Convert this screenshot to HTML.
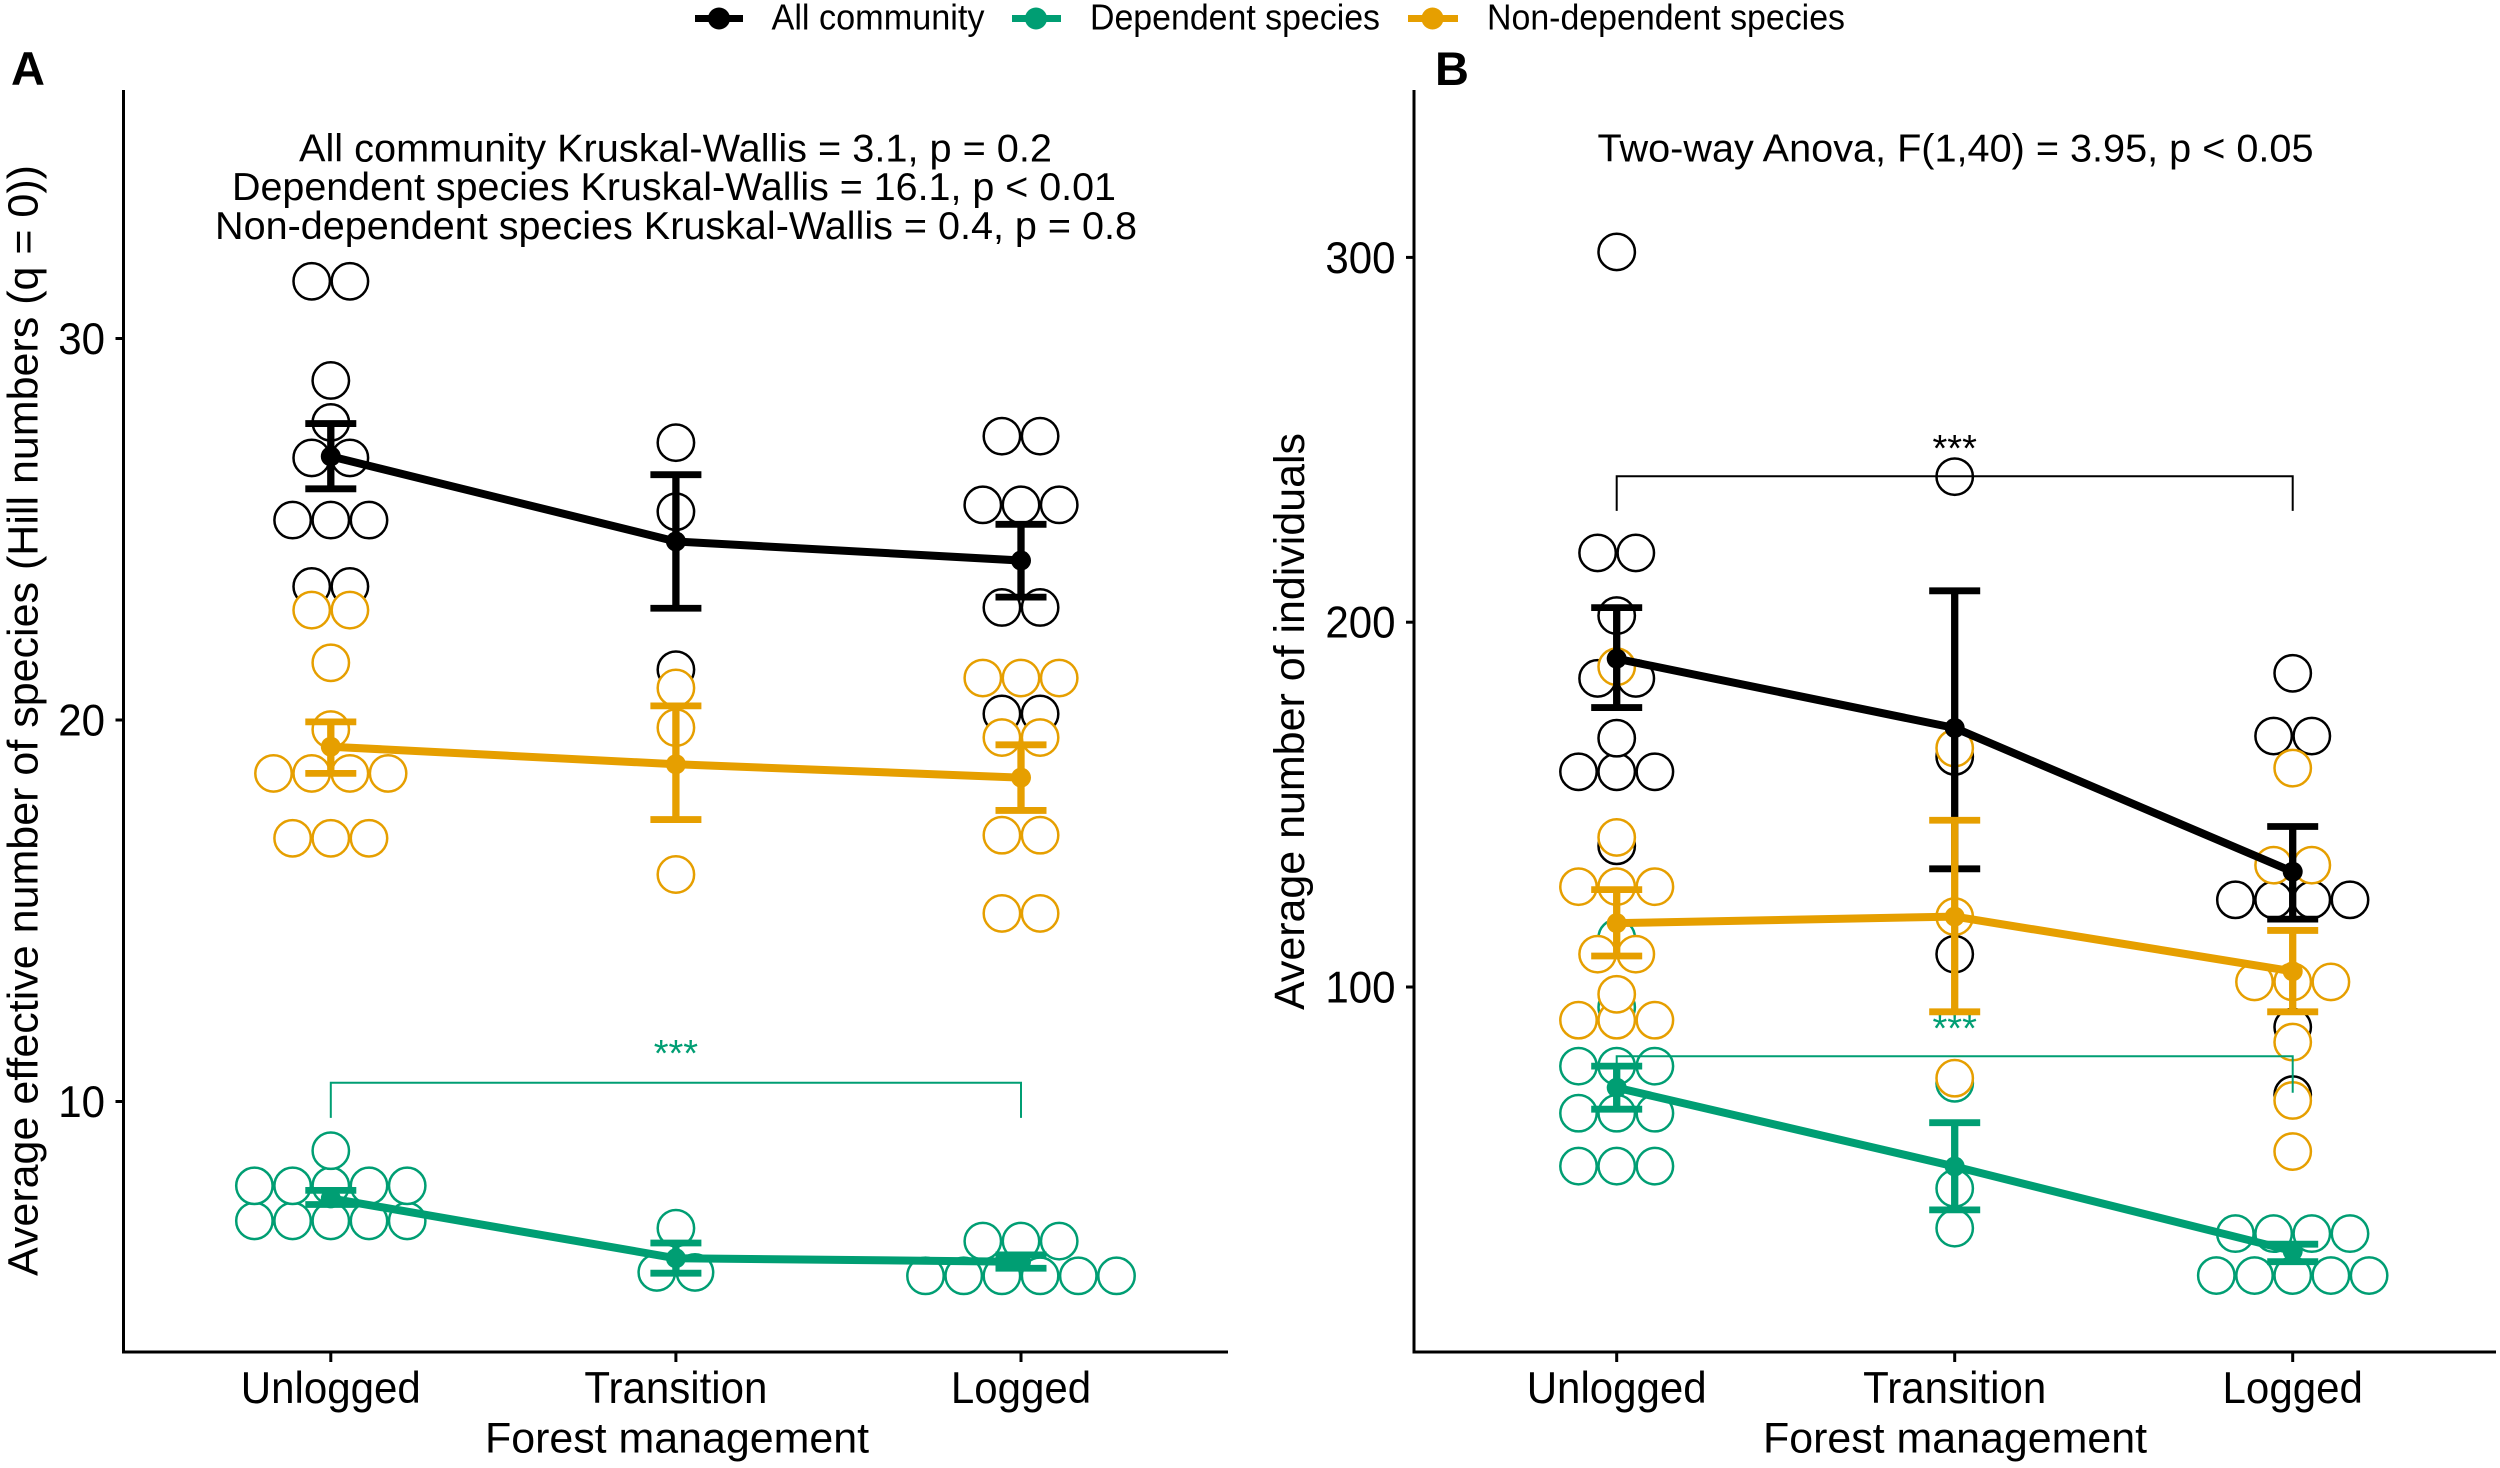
<!DOCTYPE html>
<html lang="en">
<head>
<meta charset="utf-8">
<title>Forest management effects on species and individuals</title>
<style>
html,body{margin:0;padding:0;background:#fff;}
svg{display:block;font-family:"Liberation Sans",Arial,sans-serif;}
</style>
</head>
<body>
<svg id="chart" xmlns="http://www.w3.org/2000/svg" width="2500" height="1468" viewBox="0 0 2500 1468">
  <rect x="0" y="0" width="2500" height="1468" fill="#fff"/>

  <g>
    <g>
      <line x1="695" x2="743" y1="18.5" y2="18.5" stroke="#000" stroke-width="7"/>
      <circle cx="719" cy="18.5" r="11" fill="#000"/>
      <text x="771.5" y="29.5" font-size="36" textLength="213" lengthAdjust="spacingAndGlyphs">All community</text>
    </g>
    <g>
      <line x1="1012" x2="1061" y1="18.5" y2="18.5" stroke="#009E73" stroke-width="7"/>
      <circle cx="1036" cy="18.5" r="11" fill="#009E73"/>
      <text x="1090" y="29.5" font-size="36" textLength="290" lengthAdjust="spacingAndGlyphs">Dependent species</text>
    </g>
    <g>
      <line x1="1408" x2="1458" y1="18.5" y2="18.5" stroke="#E69F00" stroke-width="7"/>
      <circle cx="1432.5" cy="18.5" r="11" fill="#E69F00"/>
      <text x="1487" y="29.5" font-size="36" textLength="358" lengthAdjust="spacingAndGlyphs">Non-dependent species</text>
    </g>
  </g>

  <text x="11" y="85" font-size="47" font-weight="bold">A</text>
  <text x="1435" y="85" font-size="47" font-weight="bold">B</text>

  <g font-size="39" text-anchor="middle">
    <text x="675.5" y="161.5" textLength="753" lengthAdjust="spacingAndGlyphs">All community Kruskal-Wallis = 3.1, p = 0.2</text>
    <text x="674" y="200" textLength="884" lengthAdjust="spacingAndGlyphs">Dependent species Kruskal-Wallis = 16.1, p &lt; 0.01</text>
    <text x="676" y="238.8" textLength="922" lengthAdjust="spacingAndGlyphs">Non-dependent species Kruskal-Wallis = 0.4, p = 0.8</text>
  </g>
  <text x="1955.5" y="161.5" font-size="39" text-anchor="middle" textLength="716" lengthAdjust="spacingAndGlyphs">Two-way Anova, F(1,40) = 3.95, p &lt; 0.05</text>

  <text transform="translate(37.5 720.5) rotate(-90)" font-size="43" text-anchor="middle" textLength="1111" lengthAdjust="spacingAndGlyphs">Average effective number of species (Hill numbers (q = 0))</text>
  <text transform="translate(1304 721.5) rotate(-90)" font-size="43" text-anchor="middle" textLength="577" lengthAdjust="spacingAndGlyphs">Average number of individuals</text>

  <text x="677" y="1452.5" font-size="43" text-anchor="middle" textLength="384" lengthAdjust="spacingAndGlyphs">Forest management</text>
  <text x="1955" y="1452.5" font-size="43" text-anchor="middle" textLength="384" lengthAdjust="spacingAndGlyphs">Forest management</text>

  <g id="panel-a"></g>
  <g id="panel-b"></g>
</svg>

<script>
// ---------- shared categories ----------
const categories = ['Unlogged', 'Transition', 'Logged'];

// ---------- Panel A: effective number of species ----------
const aTicks = [10, 20, 30];

const aAllMean  = [26.91, 24.68, 24.18];
const aAllUpper = [27.77, 26.43, 25.13];
const aAllLower = [26.06, 22.93, 23.22];

const aDepMean  = [7.46, 5.89, 5.80];
const aDepUpper = [7.67, 6.29, 5.98];
const aDepLower = [7.30, 5.50, 5.63];

const aNonMean  = [19.30, 18.84, 18.49];
const aNonUpper = [19.95, 20.37, 19.35];
const aNonLower = [18.60, 17.39, 17.63];

const aAllDotsUnlogged   = [31.5, 31.5, 28.9, 27.8, 26.87, 26.87, 25.24, 25.24, 25.24, 23.5, 23.5];
const aAllDotsTransition = [27.27, 25.46, 21.32];
const aAllDotsLogged     = [27.44, 27.44, 25.64, 25.64, 25.64, 22.95, 22.95, 20.16, 20.16];

const aDepDotsUnlogged   = [8.71, 7.79, 7.79, 7.79, 7.79, 7.79, 6.87, 6.87, 6.87, 6.87, 6.87];
const aDepDotsTransition = [6.68, 5.52, 5.52];
const aDepDotsLogged     = [6.34, 6.34, 6.34, 5.43, 5.43, 5.43, 5.43, 5.43, 5.43];

const aNonDotsUnlogged   = [22.88, 22.88, 21.5, 19.75, 18.6, 18.6, 18.6, 18.6, 16.9, 16.9, 16.9];
const aNonDotsTransition = [20.84, 19.8, 15.95];
const aNonDotsLogged     = [21.1, 21.1, 21.1, 19.54, 19.54, 16.98, 16.98, 14.93, 14.93];

const aDepBracketTop = [10.49];
const aDepBracketEnd = [9.57];

// ---------- Panel B: number of individuals ----------
const bTicks = [100, 200, 300];

const bAllMean  = [190, 171, 131.6];
const bAllUpper = [204, 208.6, 144];
const bAllLower = [176.6, 132.4, 118.6];

const bDepMean  = [72.4, 50.8, 27.6];
const bDepUpper = [78.3, 62.8, 29.5];
const bDepLower = [66.5, 38.9, 24.7];

const bNonMean  = [117.5, 119.3, 104.3];
const bNonUpper = [126.7, 145.7, 115.5];
const bNonLower = [108.5, 93.2, 93.2];

const bAllDotsUnlogged   = [301.5, 219, 219, 201.8, 184.6, 184.6, 168.2, 159, 159, 159, 138.7];
const bAllDotsTransition = [239.9, 163.2, 109];
const bAllDotsLogged     = [186, 168.8, 168.8, 123.9, 123.9, 123.9, 123.9, 89, 70.5];

const bDepDotsUnlogged   = [113.5, 94.5, 78.3, 78.3, 78.3, 65.4, 65.4, 65.4, 50.9, 50.9, 50.9];
const bDepDotsTransition = [73.6, 44.8, 33.9];
const bDepDotsLogged     = [32.4, 32.4, 32.4, 32.4, 20.9, 20.9, 20.9, 20.9, 20.9];

const bNonDotsUnlogged   = [187.8, 141, 127.5, 127.5, 127.5, 109, 109, 98, 90.9, 90.9, 90.9];
const bNonDotsTransition = [165.5, 119.3, 75];
const bNonDotsLogged     = [160, 133.4, 133.4, 101.4, 101.4, 101.4, 84.9, 68.9, 54.9];

const bAllBracketTop = [240];
const bAllBracketEnd = [230.5];
const bDepBracketTop = [81];
const bDepBracketEnd = [71];

// ---------- colours ----------
const BLACK = '#000000';
const GREEN = '#009E73';
const ORANGE = '#E69F00';

// ---------- axis functions ----------
function xA(i) { return 330.8 + i * 345.1; }
function yA(v) { return 1101.5 - (v - 10) * 38.15; }
function xB(i) { return 1616.7 + i * 338; }
function yB(v) { return 987 - (v - 100) * 3.648; }

// ---------- drawing helpers ----------
const NS = 'http://www.w3.org/2000/svg';
function make(tag, parent, attrs) {
  const el = document.createElementNS(NS, tag);
  for (const k in attrs) el.setAttribute(k, attrs[k]);
  parent.appendChild(el);
  return el;
}

function drawAxes(g, key, xf, yf, ticks, axisX, axisRight) {
  const axisTop = 90, axisBottom = 1352;
  const yAxis = make('line', g, {x1: axisX, x2: axisX, y1: axisTop, y2: axisBottom + 1.5, stroke: '#000', 'stroke-width': 3});
  
  
  const xAxis = make('line', g, {x1: axisX - 1.5, x2: axisRight, y1: axisBottom, y2: axisBottom, stroke: '#000', 'stroke-width': 3});
  
  
  ticks.forEach(function (t) {
    const mark = make('line', g, {x1: axisX - 8, x2: axisX, y1: yf(t), y2: yf(t), stroke: '#000', 'stroke-width': 3});
    
    
    const label = make('text', g, {
      transform: 'translate(' + (axisX - 18.5) + ' ' + (yf(t) + 15.5) + ') scale(0.945 1)',
      'font-size': 44.5, 'text-anchor': 'end'
    });
    label.textContent = String(t);
    
    
  });
  categories.forEach(function (c, i) {
    const mark = make('line', g, {x1: xf(i), x2: xf(i), y1: axisBottom, y2: axisBottom + 10, stroke: '#000', 'stroke-width': 3});
    
    
    const label = make('text', g, {
      transform: 'translate(' + xf(i) + ' 1403) scale(0.945 1)',
      'font-size': 44.5, 'text-anchor': 'middle'
    });
    label.textContent = c;
    
    
  });
}

function drawDots(g, key, series, colour, catIndex, values, xf, yf) {
  const stacks = [];
  values.forEach(function (v) {
    const found = stacks.find(function (s) { return s.value === v; });
    if (found) { found.count += 1; } else { stacks.push({value: v, count: 1}); }
  });
  // lower rows are painted first so that higher dots sit on top
  stacks.sort(function (a, b) { return a.value - b.value; });
  const spacing = 38.2;
  stacks.forEach(function (s) {
    for (let k = 0; k < s.count; k++) {
      const dot = make('circle', g, {
        cx: xf(catIndex) + (k - (s.count - 1) / 2) * spacing,
        cy: yf(s.value),
        r: 18.2,
        fill: '#ffffff',
        stroke: colour,
        'stroke-width': 2.5
      });
      
      
    }
  });
}

function drawSeries(g, key, series, colour, means, uppers, lowers, xf, yf) {
  const pts = means.map(function (m, i) { return xf(i) + ',' + yf(m); }).join(' ');
  const line = make('polyline', g, {points: pts, fill: 'none', stroke: colour, 'stroke-width': 8, 'stroke-linejoin': 'round'});
  
  
  means.forEach(function (m, i) {
    const cat = categories[i].toLowerCase();
    const stem = make('line', g, {x1: xf(i), x2: xf(i), y1: yf(uppers[i]), y2: yf(lowers[i]), stroke: colour, 'stroke-width': 7.3});
    
    
    const capTop = make('line', g, {x1: xf(i) - 25.5, x2: xf(i) + 25.5, y1: yf(uppers[i]), y2: yf(uppers[i]), stroke: colour, 'stroke-width': 6.8});
    
    
    const capLow = make('line', g, {x1: xf(i) - 25.5, x2: xf(i) + 25.5, y1: yf(lowers[i]), y2: yf(lowers[i]), stroke: colour, 'stroke-width': 6.8});
    
    
    const pt = make('circle', g, {cx: xf(i), cy: yf(m), r: 10, fill: colour});
    
    
  });
}

function drawBracket(g, key, series, colour, top, end, starY, xf, yf) {
  const x0 = xf(0), x1 = xf(2), yt = yf(top), ye = yf(end);
  const path = make('polyline', g, {
    points: x0 + ',' + ye + ' ' + x0 + ',' + yt + ' ' + x1 + ',' + yt + ' ' + x1 + ',' + ye,
    fill: 'none', stroke: colour, 'stroke-width': 2
  });
  
  
  const star = make('text', g, {x: xf(1), y: starY, 'font-size': 38, 'text-anchor': 'middle', fill: colour});
  star.textContent = '***';
  
  
}

// ---------- Panel A ----------
const gA = document.getElementById('panel-a');
drawAxes(gA, 'panel-a', xA, yA, aTicks, 123.5, 1228);
[aAllDotsUnlogged, aAllDotsTransition, aAllDotsLogged].forEach(function (d, i) { drawDots(gA, 'panel-a', 'all-community', BLACK, i, d, xA, yA); });
[aDepDotsUnlogged, aDepDotsTransition, aDepDotsLogged].forEach(function (d, i) { drawDots(gA, 'panel-a', 'dependent', GREEN, i, d, xA, yA); });
[aNonDotsUnlogged, aNonDotsTransition, aNonDotsLogged].forEach(function (d, i) { drawDots(gA, 'panel-a', 'non-dependent', ORANGE, i, d, xA, yA); });
drawBracket(gA, 'panel-a', 'dependent', GREEN, aDepBracketTop[0], aDepBracketEnd[0], 1066, xA, yA);
drawSeries(gA, 'panel-a', 'all-community', BLACK, aAllMean, aAllUpper, aAllLower, xA, yA);
drawSeries(gA, 'panel-a', 'dependent', GREEN, aDepMean, aDepUpper, aDepLower, xA, yA);
drawSeries(gA, 'panel-a', 'non-dependent', ORANGE, aNonMean, aNonUpper, aNonLower, xA, yA);

// ---------- Panel B ----------
const gB = document.getElementById('panel-b');
drawAxes(gB, 'panel-b', xB, yB, bTicks, 1414, 2496);
[bAllDotsUnlogged, bAllDotsTransition, bAllDotsLogged].forEach(function (d, i) { drawDots(gB, 'panel-b', 'all-community', BLACK, i, d, xB, yB); });
[bDepDotsUnlogged, bDepDotsTransition, bDepDotsLogged].forEach(function (d, i) { drawDots(gB, 'panel-b', 'dependent', GREEN, i, d, xB, yB); });
[bNonDotsUnlogged, bNonDotsTransition, bNonDotsLogged].forEach(function (d, i) { drawDots(gB, 'panel-b', 'non-dependent', ORANGE, i, d, xB, yB); });
drawBracket(gB, 'panel-b', 'all-community', BLACK, bAllBracketTop[0], bAllBracketEnd[0], 461, xB, yB);
drawBracket(gB, 'panel-b', 'dependent', GREEN, bDepBracketTop[0], bDepBracketEnd[0], 1041, xB, yB);
drawSeries(gB, 'panel-b', 'all-community', BLACK, bAllMean, bAllUpper, bAllLower, xB, yB);
drawSeries(gB, 'panel-b', 'dependent', GREEN, bDepMean, bDepUpper, bDepLower, xB, yB);
drawSeries(gB, 'panel-b', 'non-dependent', ORANGE, bNonMean, bNonUpper, bNonLower, xB, yB);
</script>
</body>
</html>
